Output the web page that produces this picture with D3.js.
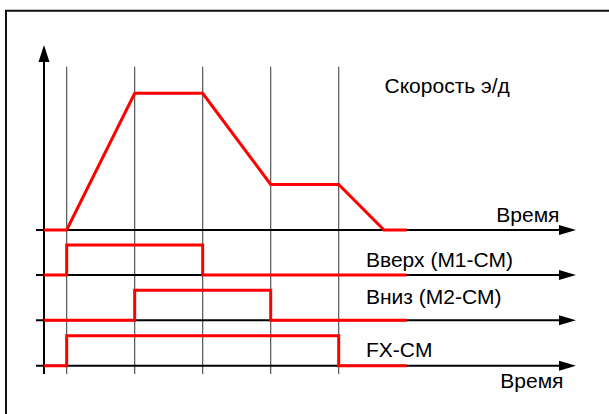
<!DOCTYPE html>
<html>
<head>
<meta charset="utf-8">
<script src="https://cdn.jsdelivr.net/npm/d3@7"></script>
<style>
  body { margin: 0; background: #fff; }
  svg { display: block; }
  .label { font-family: "Liberation Sans", Arial, sans-serif; font-size: 21px; fill: #000; }
</style>
</head>
<body>
<div id="chart"></div>
<script>
// time is in thirds of a step: y axis at 0, events at 1, 4, 7, 10, 13
const timeMarks = [1, 4, 7, 10, 13];

const speedTime = [0, 1, 4, 7, 10, 13, 15, 16];
const speedValue = [0, 0, 1, 1, 0.333, 0.333, 0, 0];

const upTime = [0, 1, 7, 16];
const upValue = [0, 1, 0, 0];
const downTime = [0, 4, 10, 16];
const downValue = [0, 1, 0, 0];
const fxTime = [0, 1, 13, 16];
const fxValue = [0, 1, 0, 0];

const speedLabel = "Скорость э/д";
const timeLabel = "Время";
const laneLabels = ["Вверх (М1-СМ)", "Вниз (М2-СМ)", "FX-CM"];

class TimingChart {
  constructor() {
    this.width = 609;
    this.height = 414;
    this.createChart();
  }

  createChart() {
    const svg = d3.select("#chart")
      .append("svg")
      .attr("width", this.width)
      .attr("height", this.height);

    // frame (only left and top edges fall inside the picture)
    svg.append("path")
      .attr("d", "M6,430V10.7H640")
      .attr("fill", "none")
      .attr("stroke", "#111")
      .attr("stroke-width", 2);

    const xScale = d3.scaleLinear().domain([0, 16]).range([44, 406.7]);
    const speedY = d3.scaleLinear().domain([0, 1]).range([230, 93.3]);
    const laneBases = [275, 320.3, 365.7];
    const laneY = laneBases.map(b => d3.scaleLinear().domain([0, 1]).range([b, b - 30]));

    // vertical time marks
    svg.append("g")
      .selectAll("line")
      .data(timeMarks)
      .join("line")
      .attr("x1", d => xScale(d))
      .attr("x2", d => xScale(d))
      .attr("y1", 66.7)
      .attr("y2", 374)
      .attr("stroke", "#555")
      .attr("stroke-width", 1.2);

    // y axis with arrow
    const x0 = xScale(0);
    svg.append("line")
      .attr("x1", x0).attr("x2", x0)
      .attr("y1", 374).attr("y2", 58)
      .attr("stroke", "#000").attr("stroke-width", 2);
    svg.append("path")
      .attr("d", `M${x0},45L${x0 - 5.5},62L${x0 + 5.5},62Z`)
      .attr("fill", "#000");

    // horizontal axes with arrows
    const axisYs = [speedY(0)].concat(laneBases);
    const axes = svg.append("g");
    axes.selectAll("line")
      .data(axisYs)
      .join("line")
      .attr("x1", 36).attr("x2", 562)
      .attr("y1", d => d).attr("y2", d => d)
      .attr("stroke", "#000").attr("stroke-width", 2);
    axes.selectAll("path")
      .data(axisYs)
      .join("path")
      .attr("d", d => `M576,${d}L559,${d - 5}L559,${d + 5}Z`)
      .attr("fill", "#000");

    // speed curve
    const speedLine = d3.line()
      .x(d => xScale(d[0]))
      .y(d => speedY(d[1]));
    svg.append("path")
      .datum(d3.zip(speedTime, speedValue))
      .attr("d", speedLine)
      .attr("fill", "none")
      .attr("stroke", "#ff0000")
      .attr("stroke-width", 3)
      .attr("stroke-linejoin", "miter");

    // step signals
    const signals = [[upTime, upValue], [downTime, downValue], [fxTime, fxValue]];
    signals.forEach(([t, v], i) => {
      const line = d3.line()
        .x(d => xScale(d[0]))
        .y(d => laneY[i](d[1]))
        .curve(d3.curveStepAfter);
      svg.append("path")
        .datum(d3.zip(t, v))
        .attr("d", line)
        .attr("fill", "none")
        .attr("stroke", "#ff0000")
        .attr("stroke-width", 3);
    });

    // labels
    svg.append("text")
      .attr("class", "label")
      .attr("x", 384.5)
      .attr("y", 93.3)
      .text(speedLabel);

    svg.append("text")
      .attr("class", "label")
      .attr("x", 559.5)
      .attr("y", 221.5)
      .attr("text-anchor", "end")
      .text(timeLabel);

    const laneLabelYs = [267.3, 304, 356.7];
    svg.append("g")
      .selectAll("text")
      .data(laneLabels)
      .join("text")
      .attr("class", "label")
      .attr("x", 366)
      .attr("y", (d, i) => laneLabelYs[i])
      .text(d => d);

    svg.append("text")
      .attr("class", "label")
      .attr("x", 563.5)
      .attr("y", 387.7)
      .attr("text-anchor", "end")
      .text(timeLabel);
  }
}

new TimingChart();
</script>
</body>
</html>
